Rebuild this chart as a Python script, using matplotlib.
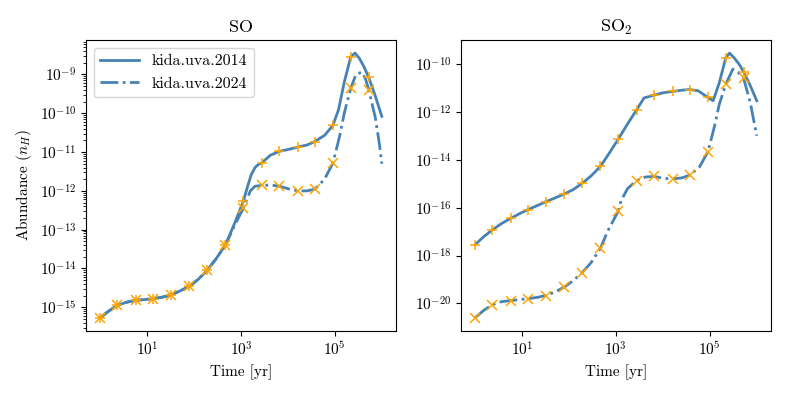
import numpy as np
import matplotlib
matplotlib.use("Agg")
import matplotlib.pyplot as plt
from matplotlib.ticker import NullLocator

plt.rcParams['font.family'] = 'serif'
plt.rcParams['font.serif'] = ['cmr10', 'DejaVu Serif']
plt.rcParams['mathtext.fontset'] = 'cm'
plt.rcParams['axes.formatter.use_mathtext'] = True
plt.rcParams['axes.unicode_minus'] = False

# --- data: log10(time [yr]) and log10(abundance) ---
labels = ['kida.uva.2014', 'kida.uva.2024']
titles = ['SO', 'SO$_2$']

# marker times (log10 yr)
mark_t = [0.0, 0.37, 0.76, 1.13, 1.51, 1.90, 2.28, 2.67, 3.05, 3.44,
          3.82, 4.21, 4.57, 4.96, 5.34, 5.72]

# SO
so_2014_t = [0.0, 0.18, 0.37, 0.56, 0.76, 0.95, 1.13, 1.32, 1.51, 1.70, 1.90, 2.09,
             2.28, 2.47, 2.67, 2.86, 3.05, 3.15, 3.22, 3.30, 3.37, 3.44, 3.63, 3.82,
             4.02, 4.21, 4.40, 4.57, 4.78, 4.96, 5.08, 5.20, 5.34, 5.43, 5.52, 5.62,
             5.72, 5.86, 6.0]
so_2014_y = [-15.27, -15.10, -14.95, -14.87, -14.82, -14.80, -14.78, -14.74, -14.68,
             -14.58, -14.46, -14.28, -14.05, -13.75, -13.39, -12.85, -12.27, -11.85,
             -11.58, -11.40, -11.32, -11.28, -11.08, -10.98, -10.93, -10.87, -10.82,
             -10.73, -10.57, -10.31, -9.90, -9.20, -8.54, -8.45, -8.58, -8.80, -9.07,
             -9.55, -10.08]
so_2024_t = [0.0, 0.18, 0.37, 0.56, 0.76, 0.95, 1.13, 1.32, 1.51, 1.70, 1.90, 2.09,
             2.28, 2.47, 2.67, 2.86, 3.05, 3.20, 3.30, 3.44, 3.63, 3.82, 4.02, 4.21,
             4.40, 4.57, 4.78, 4.96, 5.10, 5.20, 5.34, 5.45, 5.57, 5.65, 5.72, 5.86,
             5.95, 6.0]
so_2024_y = [-15.27, -15.10, -14.95, -14.87, -14.82, -14.80, -14.78, -14.74, -14.68,
             -14.58, -14.46, -14.28, -14.05, -13.75, -13.40, -12.90, -12.45, -12.00,
             -11.88, -11.86, -11.85, -11.88, -11.95, -12.00, -12.00, -11.96, -11.70,
             -11.28, -10.60, -10.00, -9.35, -9.00, -8.94, -9.10, -9.39, -10.10,
             -10.80, -11.30]
so_2014_m = [-15.27, -14.95, -14.82, -14.78, -14.68, -14.46, -14.05, -13.39, -12.27,
             -11.28, -10.98, -10.87, -10.73, -10.31, -8.54, -9.07]
so_2024_m = [-15.27, -14.95, -14.82, -14.78, -14.68, -14.46, -14.05, -13.39, -12.45,
             -11.86, -11.88, -12.00, -11.96, -11.28, -9.35, -9.39]

# SO2
so2_2014_t = [0.0, 0.18, 0.37, 0.56, 0.76, 0.95, 1.13, 1.32, 1.51, 1.70, 1.90, 2.09,
              2.28, 2.47, 2.67, 2.86, 3.05, 3.25, 3.44, 3.60, 3.82, 4.02, 4.21, 4.40,
              4.57, 4.75, 4.96, 5.07, 5.20, 5.34, 5.42, 5.52, 5.62, 5.72, 5.86, 6.0]
so2_2014_y = [-17.55, -17.22, -16.93, -16.67, -16.45, -16.25, -16.08, -15.92, -15.75,
              -15.60, -15.43, -15.25, -14.99, -14.68, -14.28, -13.72, -13.14, -12.50,
              -11.92, -11.42, -11.30, -11.20, -11.15, -11.10, -11.07, -11.12, -11.40,
              -11.54, -10.80, -9.74, -9.55, -9.75, -10.00, -10.33, -10.90, -11.54]
so2_2024_t = [0.0, 0.18, 0.37, 0.56, 0.76, 0.95, 1.13, 1.32, 1.51, 1.70, 1.90, 2.09,
              2.28, 2.47, 2.67, 2.83, 3.05, 3.11, 3.25, 3.44, 3.63, 3.82, 4.02, 4.21,
              4.40, 4.57, 4.78, 4.96, 5.10, 5.20, 5.34, 5.49, 5.60, 5.72, 5.86, 6.0]
so2_2024_y = [-20.60, -20.30, -20.05, -19.93, -19.88, -19.84, -19.80, -19.75, -19.67,
              -19.53, -19.32, -19.05, -18.72, -18.30, -17.70, -16.96, -16.15, -15.71,
              -15.20, -14.87, -14.72, -14.70, -14.78, -14.80, -14.76, -14.65, -14.30,
              -13.67, -12.60, -11.70, -10.85, -10.22, -10.35, -10.60, -11.60, -13.00]
so2_2014_m = [-17.55, -16.93, -16.45, -16.08, -15.75, -15.43, -14.99, -14.28, -13.14,
              -11.92, -11.30, -11.15, -11.07, -11.40, -9.74, -10.33]
so2_2024_m = [-20.60, -20.05, -19.88, -19.80, -19.67, -19.32, -18.72, -17.70, -16.15,
              -14.87, -14.70, -14.80, -14.65, -13.67, -10.85, -10.60]

panels = [
    (so_2014_t, so_2014_y, so_2024_t, so_2024_y, so_2014_m, so_2024_m),
    (so2_2014_t, so2_2014_y, so2_2024_t, so2_2024_y, so2_2014_m, so2_2024_m),
]

fig, axes = plt.subplots(1, 2, figsize=(7.89, 3.95), dpi=100)
fig.subplots_adjust(left=0.109, right=0.977, bottom=0.162, top=0.899, wspace=0.21)

lc = 'steelblue'
for i, (ax, p) in enumerate(zip(axes, panels)):
    t1, y1, t2, y2, m1, m2 = p
    ax.plot(10**np.array(t1), 10**np.array(y1), '-', color=lc, lw=2, label=labels[0])
    ax.plot(10**np.array(t2), 10**np.array(y2), '-.', color=lc, lw=2, label=labels[1])
    tm = 10**np.array(mark_t)
    ax.plot(tm, 10**np.array(m1), '+', color='orange', ms=7, mew=1.1, ls='none')
    ax.plot(tm, 10**np.array(m2), 'x', color='orange', ms=7, mew=1.1, ls='none')
    ax.set_xscale('log')
    ax.set_yscale('log')
    ax.xaxis.set_minor_locator(NullLocator())
    ax.set_title(titles[i], fontsize=13)
    ax.set_xlabel('Time [yr]', fontsize=11)
    ax.tick_params(labelsize=11)

axes[1].yaxis.set_minor_locator(NullLocator())
axes[0].set_ylabel('Abundance ($n_H$)', fontsize=11)
axes[0].legend(loc='upper left', fontsize=11.5, handlelength=2.4)

plt.savefig('out.png', dpi=100)
